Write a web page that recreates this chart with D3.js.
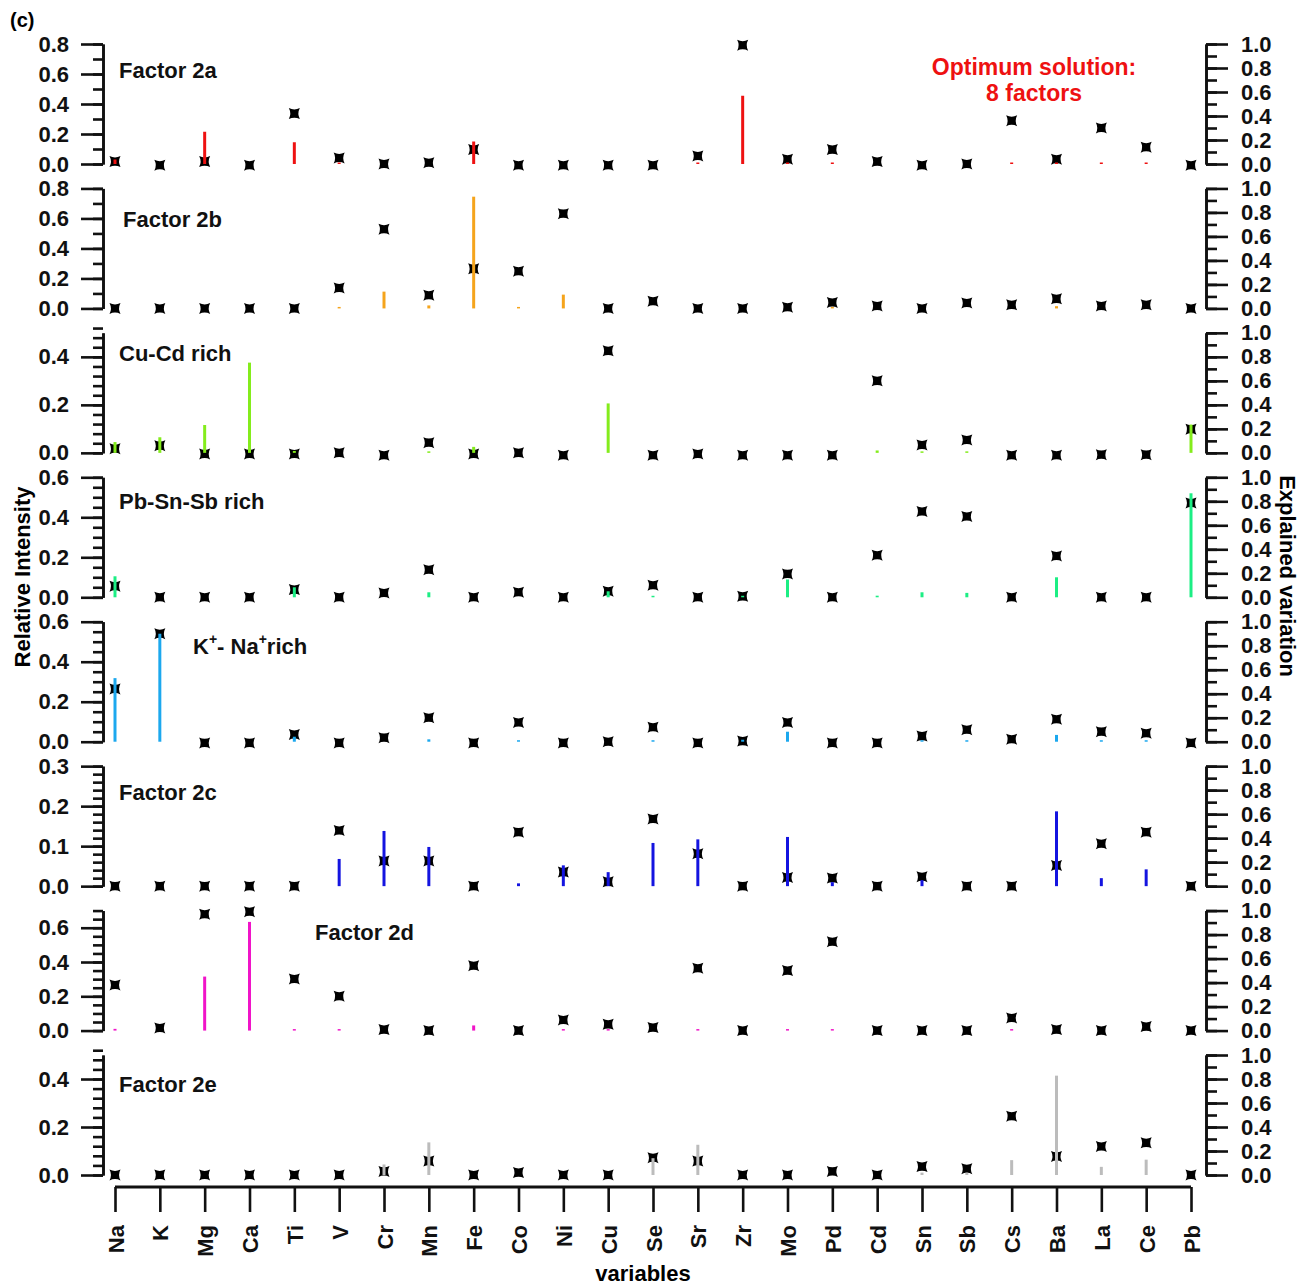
<!DOCTYPE html>
<html>
<head>
<meta charset="utf-8">
<script src="https://cdn.jsdelivr.net/npm/d3@7"></script>
<style>
  body { margin: 0; background: #fff; }
  svg text { font-family: "Liberation Sans", Arial, sans-serif; font-weight: bold; }
</style>
</head>
<body>
<div id="chart"></div>
<script>
// variables on the x axis
const elements = ["Na","K","Mg","Ca","Ti","V","Cr","Mn","Fe","Co","Ni","Cu","Se","Sr","Zr","Mo","Pd","Cd","Sn","Sb","Cs","Ba","La","Ce","Pb"];

const factorNames = ["Factor 2a", "Factor 2b", "Cu-Cd rich", "Pb-Sn-Sb rich", "K+ - Na+ rich", "Factor 2c", "Factor 2d", "Factor 2e"];

// left axis maximum, major tick step and minor tick step for every panel
const leftMax = [0.8, 0.8, 0.5, 0.6, 0.6, 0.3, 0.7, 0.5];
const leftMajor = [0.2, 0.2, 0.2, 0.2, 0.2, 0.1, 0.2, 0.2];
const leftMinor = [0.1, 0.1, 0.04, 0.05, 0.05, 0.02, 0.05, 0.04];

// relative intensity (bars, left axis)
const int2a  = [0.03,0,0.215,0,0.145,0.003,0,0,0.15,0,0,0,0,0.005,0.455,0.01,0.004,0,0,0,0.003,0.01,0.003,0.003,0];
const int2b  = [0,0,0,0,0,0.005,0.112,0.02,0.745,0.003,0.092,0,0,0,0,0,0.005,0,0,0,0,0.015,0,0,0];
const intCuCd = [0.045,0.065,0.116,0.376,0.008,0,0,0.005,0.025,0,0,0.206,0,0,0,0,0,0.01,0.003,0.003,0,0,0,0,0.118];
const intPbSnSb = [0.105,0,0,0,0.05,0,0,0.025,0,0,0,0.03,0.005,0,0.005,0.089,0,0.008,0.025,0.022,0,0.1,0,0,0.52];
const intKNa = [0.318,0.54,0,0,0.025,0,0,0.012,0,0.002,0,0,0.003,0,0.01,0.05,0,0,0.002,0.002,0,0.034,0.002,0.002,0];
const int2c  = [0,0,0,0,0,0.068,0.138,0.098,0,0.007,0.052,0.035,0.108,0.117,0,0.123,0.01,0,0.015,0,0,0.187,0.02,0.042,0];
const int2d  = [0.01,0,0.315,0.634,0.005,0.002,0,0,0.03,0,0.002,0.002,0,0.002,0,0.004,0.002,0,0,0,0.002,0,0,0,0];
const int2e  = [0,0,0,0,0,0,0.044,0.136,0,0,0,0,0.07,0.126,0,0,0,0,0.01,0.01,0.062,0.414,0.034,0.064,0];

// explained variation (markers, right axis)
const ev2a  = [0.02,-0.01,0.02,-0.01,0.42,0.05,0,0.01,0.12,-0.01,-0.01,-0.01,-0.01,0.067,0.99,0.04,0.12,0.02,-0.01,0,0.36,0.04,0.3,0.14,-0.01];
const ev2b  = [0,0,0,0,0,0.17,0.66,0.11,0.33,0.31,0.79,0,0.06,0,0,0.01,0.05,0.02,0,0.045,0.03,0.08,0.02,0.03,0];
const evCuCd = [0.034,0.06,-0.01,-0.01,-0.01,0,-0.02,0.085,-0.01,0,-0.02,0.85,-0.02,-0.01,-0.02,-0.02,-0.02,0.6,0.065,0.107,-0.02,-0.02,-0.015,-0.015,0.197];
const evPbSnSb = [0.092,0,0,0,0.064,0,0.036,0.23,0,0.042,0,0.05,0.1,0,0.008,0.195,0,0.35,0.715,0.673,0,0.344,0,0,0.786];
const evKNa = [0.44,0.9,-0.01,-0.01,0.06,-0.01,0.034,0.2,-0.01,0.16,-0.01,0,0.12,-0.01,0.005,0.16,-0.01,-0.01,0.047,0.1,0.02,0.187,0.084,0.07,-0.01];
const ev2c  = [0,0,0,0,0,0.464,0.21,0.21,0,0.45,0.117,0.036,0.56,0.27,0,0.072,0.067,0,0.078,0,0,0.172,0.353,0.45,0];
const ev2d  = [0.38,0.022,0.97,0.99,0.43,0.286,0.008,0,0.54,0,0.088,0.052,0.025,0.52,0,0.5,0.74,0,0,0,0.105,0.008,0,0.033,0];
const ev2e  = [0,0,0,0,0,0,0.03,0.116,0,0.02,0,0,0.144,0.116,0,0,0.03,0,0.07,0.052,0.49,0.155,0.238,0.268,0];

const rightTicks = [0, 0.2, 0.4, 0.6, 0.8, 1.0];

const intensities = [int2a, int2b, intCuCd, intPbSnSb, intKNa, int2c, int2d, int2e];
const explained = [ev2a, ev2b, evCuCd, evPbSnSb, evKNa, ev2c, ev2d, ev2e];

const colors = ["#ee1111", "#f5a41c", "#84ec1c", "#1cee84", "#1ca8ee", "#1414e0", "#f014c8", "#bcbcbc"];
const labelPos = [[119, 78], [123, 227], [119, 361], [119, 509], [193, 654], [119, 800], [315, 940], [119, 1092]];

const W = 1301, H = 1287;
const panelTop = 44, panelStep = 144.43, panelH = 120;
const leftX = 103, rightX = 1206;

const svg = d3.select("#chart").append("svg")
    .attr("width", W)
    .attr("height", H);

const x = d3.scalePoint()
    .domain(elements)
    .range([115, 1191]);

// marker: square with concave sides
const markerPath = (() => {
    const a = 5.5, c = 2.6;
    return `M${-a},${-a}Q0,${-c} ${a},${-a}Q${c},0 ${a},${a}Q0,${c} ${-a},${a}Q${-c},0 ${-a},${-a}Z`;
})();

const ticksTo = (max, step) => d3.range(0, Math.round(max / step) + 1).map(i => +(i * step).toFixed(3));

intensities.forEach((vals, i) => {
    const top = panelTop + i * panelStep;
    const bottom = top + panelH;

    const yL = d3.scaleLinear().domain([0, leftMax[i]]).range([bottom, top]);
    const yR = d3.scaleLinear().domain([0, 1]).range([bottom, top]);

    const g = svg.append("g");

    // left axis: minor ticks, then major ticks with labels
    g.append("g")
        .attr("transform", `translate(${leftX},0)`)
        .call(d3.axisLeft(yL).tickValues(ticksTo(leftMax[i], leftMinor[i])).tickSize(10).tickSizeOuter(0).tickFormat(""));
    g.append("g")
        .attr("transform", `translate(${leftX},0)`)
        .call(d3.axisLeft(yL).tickValues(ticksTo(leftMax[i], leftMajor[i]).filter(v => v <= leftMax[i] + 1e-9))
            .tickSize(22).tickSizeOuter(0).tickPadding(12).tickFormat(d3.format(".1f")));

    // right axis
    g.append("g")
        .attr("transform", `translate(${rightX},0)`)
        .call(d3.axisRight(yR).tickValues(ticksTo(1, 0.1)).tickSize(11).tickSizeOuter(0).tickFormat(""));
    g.append("g")
        .attr("transform", `translate(${rightX},0)`)
        .call(d3.axisRight(yR).tickValues(rightTicks).tickSize(22).tickSizeOuter(0).tickPadding(13).tickFormat(d3.format(".1f")));

    // markers first, bars drawn over them
    g.selectAll(".marker")
        .data(explained[i])
        .enter()
        .append("path")
        .attr("class", "marker")
        .attr("d", markerPath)
        .attr("transform", (d, j) => `translate(${x(elements[j])},${yR(d)})`)
        .style("fill", "#000");

    g.selectAll(".bar")
        .data(vals)
        .enter()
        .append("line")
        .attr("class", "bar")
        .attr("x1", (d, j) => x(elements[j]))
        .attr("x2", (d, j) => x(elements[j]))
        .attr("y1", yL(0))
        .attr("y2", d => Math.min(yL(d), yL(0) - (d > 0 ? 1.5 : 0)))
        .style("stroke", colors[i])
        .style("stroke-width", 3);

    // panel label
    const lab = g.append("text")
        .attr("x", labelPos[i][0])
        .attr("y", labelPos[i][1])
        .style("font-size", "22px")
        .style("fill", "#111");
    if (factorNames[i].includes("+")) {
        lab.append("tspan").text("K");
        lab.append("tspan").attr("dy", -10).style("font-size", "14px").text("+");
        lab.append("tspan").attr("dy", 10).text("- Na");
        lab.append("tspan").attr("dy", -10).style("font-size", "14px").text("+");
        lab.append("tspan").attr("dy", 10).text("rich");
    } else {
        lab.text(factorNames[i]);
    }
});

svg.selectAll(".domain, .tick line")
    .style("stroke", "#111")
    .style("stroke-width", 2.6);
svg.selectAll(".tick text")
    .style("font-size", "22px")
    .style("fill", "#111");

// bottom axis
const xAxisG = svg.append("g")
    .attr("transform", "translate(0,1187)")
    .call(d3.axisBottom(x).tickSize(25).tickSizeOuter(0).tickPadding(0));
xAxisG.select(".domain")
    .attr("d", `M${x("Na")},0H${x("Pb")}`)
    .style("stroke", "#111")
    .style("stroke-width", 3);
xAxisG.selectAll(".tick line")
    .style("stroke", "#111")
    .style("stroke-width", 2.6);
xAxisG.selectAll(".tick text")
    .attr("transform", "translate(8,38) rotate(-90)")
    .attr("x", 0)
    .attr("y", 0)
    .attr("dy", 0)
    .style("text-anchor", "end")
    .style("font-size", "22px")
    .style("fill", "#111");

svg.append("text")
    .attr("x", 643)
    .attr("y", 1281)
    .style("text-anchor", "middle")
    .style("font-size", "22px")
    .text("variables");

svg.append("text")
    .attr("transform", "translate(30,577) rotate(-90)")
    .style("text-anchor", "middle")
    .style("font-size", "22px")
    .text("Relative Intensity");

svg.append("text")
    .attr("transform", "translate(1280,576) rotate(90)")
    .style("text-anchor", "middle")
    .style("font-size", "22px")
    .text("Explained variation");

svg.append("text")
    .attr("x", 10)
    .attr("y", 27)
    .style("font-size", "20px")
    .text("(c)");

svg.append("text")
    .attr("x", 1034)
    .attr("y", 75)
    .style("text-anchor", "middle")
    .style("font-size", "23px")
    .style("fill", "#ee1111")
    .text("Optimum solution:");
svg.append("text")
    .attr("x", 1034)
    .attr("y", 101)
    .style("text-anchor", "middle")
    .style("font-size", "23px")
    .style("fill", "#ee1111")
    .text("8 factors");
</script>
</body>
</html>
